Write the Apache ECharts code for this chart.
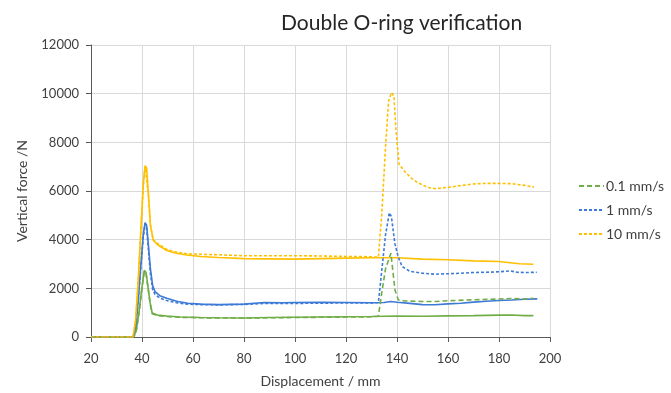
<!DOCTYPE html>
<html>
<head>
<meta charset="utf-8">
<script src="https://cdn.jsdelivr.net/npm/echarts@6/dist/echarts.min.js"></script>
<style>
html,body{margin:0;padding:0;background:#fff;}
#chart{width:671px;height:393px;}
</style>
</head>
<body>
<div id="chart"></div>
<script>
// legend names
var seriesNames = ['0.1 mm/s', '1 mm/s', '10 mm/s'];
var xTicks = [20, 40, 60, 80, 100, 120, 140, 160, 180, 200];

// 0.1 mm/s
var dispGreenSolid = [20, 36.8, 37.8, 38.8, 39.8, 40.9, 41.6, 42.3, 43.2, 44, 46, 49.7, 55, 63, 70, 80, 90, 100, 110, 120, 130, 140, 150, 160, 170, 180, 185, 190, 193.5];
var forceGreenSolid = [0, 0, 300, 1000, 1900, 2743, 2650, 2100, 1400, 986, 900, 860, 820, 800, 790, 780, 800, 810, 820, 830, 840, 860, 850, 870, 880, 900, 905, 880, 878];
var dispGreenDash = [20, 36.8, 37.8, 38.8, 39.8, 40.9, 41.6, 42.3, 43.2, 44, 46, 49.7, 55, 63, 70, 80, 90, 100, 110, 120, 130, 132.7, 134, 135.5, 137.6, 139.2, 140.5, 143, 150, 155, 160, 170, 180, 185, 190, 193.5];
var forceGreenDash = [0, 0, 280, 950, 1850, 2700, 2600, 2050, 1350, 960, 880, 840, 810, 790, 780, 780, 790, 800, 810, 820, 830, 851, 1800, 2800, 3446, 1933, 1527, 1480, 1460, 1460, 1490, 1530, 1560, 1580, 1560, 1590];

// 1 mm/s
var dispBlueSolid = [20, 36.5, 37.5, 38.5, 39.5, 40.5, 41.2, 41.8, 42.5, 43.3, 44.2, 45.1, 47, 49.7, 54, 58, 63, 70, 80, 88, 95, 100, 110, 120, 130, 135, 137.5, 140, 145, 150, 155, 160, 165, 170, 175, 180, 185, 190, 195];
var forceBlueSolid = [0, 0, 400, 1500, 2900, 4200, 4700, 4600, 3800, 2800, 2100, 1865, 1700, 1594, 1460, 1390, 1351, 1330, 1350, 1419, 1410, 1420, 1430, 1420, 1410, 1420, 1460, 1430, 1380, 1330, 1324, 1360, 1390, 1432, 1470, 1500, 1520, 1550, 1567];
var dispBlueDash = [20, 36.5, 37.5, 38.5, 39.5, 40.5, 41.2, 41.8, 42.5, 43.3, 44.2, 45.1, 47, 49.7, 54, 58, 63, 70, 80, 88, 95, 100, 110, 120, 130, 132.7, 134, 135.5, 137, 137.8, 139.2, 140.5, 142, 145, 150, 155, 160, 165, 170, 175, 180, 184.5, 187, 190, 194.8];
var forceBlueDash = [0, 0, 380, 1450, 2800, 4100, 4650, 4500, 3600, 2600, 1950, 1750, 1600, 1500, 1400, 1350, 1330, 1320, 1340, 1380, 1380, 1380, 1390, 1400, 1400, 1410, 2700, 4200, 5108, 4950, 3824, 3284, 2900, 2700, 2620, 2580, 2600, 2620, 2650, 2660, 2680, 2716, 2660, 2650, 2660];

// 10 mm/s
var dispYellowSolid = [20, 36.5, 37.5, 38.5, 39.5, 40.5, 41.2, 41.8, 42.5, 43.3, 44.4, 46, 49.7, 53, 57.5, 63, 70, 80, 90, 100, 110, 120, 130, 140, 150, 160, 170, 180, 188, 193.5];
var forceYellowSolid = [0, 0, 700, 2300, 4300, 6300, 7040, 6950, 5900, 4600, 3985, 3800, 3554, 3450, 3370, 3310, 3270, 3220, 3210, 3200, 3220, 3240, 3255, 3256, 3200, 3176, 3130, 3100, 3013, 2987];
var dispYellowDash = [20, 36.5, 37.5, 38.5, 39.5, 40.5, 41.2, 41.8, 42.5, 43.3, 44.4, 46, 49.7, 53, 57.5, 63, 70, 80, 90, 100, 110, 120, 128, 132.7, 134, 135.5, 136.7, 137.8, 138.8, 139.6, 140.8, 143, 146, 148, 152, 155, 160, 165, 170, 175, 180, 185, 190, 193.7];
var forceYellowDash = [0, 0, 650, 2200, 4200, 6200, 6980, 6900, 5850, 4600, 4000, 3850, 3600, 3500, 3420, 3400, 3380, 3340, 3340, 3340, 3330, 3310, 3300, 3284, 5000, 7800, 9700, 10040, 9900, 8500, 7100, 6800, 6500, 6350, 6150, 6094, 6150, 6220, 6290, 6312, 6312, 6300, 6230, 6160];

var colors = ['#70ad47', '#3d7ad6', '#ffc000'];
var fontName = 'Lato';

function pairs(xs, ys){
	var out = [];
	for(var i = 0; i < xs.length; i++){
		out.push([xs[i], ys[i]]);
	}
	return out;
}

function makeLine(name, xs, ys, color, dash){
	return {
		name: name,
		type: 'line',
		data: pairs(xs, ys),
		symbol: 'none',
		silent: true,
		color: color,
		lineStyle: {color: color, width: 1.6, type: dash},
		z: dash == 'solid' ? 2 : 3
	};
}

var chart = echarts.init(document.getElementById('chart'));
var option = {
	animation: false,
	backgroundColor: '#fff',
	title: {
		text: 'Double O-ring verification',
		left: 276,
		top: 8,
		textStyle: {fontFamily: fontName, fontSize: 21, fontWeight: 'normal', color: '#262626'}
	},
	legend: {
		data: seriesNames,
		orient: 'vertical',
		left: 573,
		top: 174,
		itemWidth: 25,
		itemHeight: 14,
		itemGap: 10,
		itemStyle: {opacity: 0},
		textStyle: {fontFamily: fontName, fontSize: 14, color: '#404040', padding: [0, 0, 0, -3]}
	},
	grid: {left: 91, right: 121, top: 45, bottom: 52},
	xAxis: {
		type: 'value',
		min: xTicks[0],
		max: xTicks[xTicks.length - 1],
		interval: 20,
		name: 'Displacement / mm',
		nameLocation: 'middle',
		nameGap: 37,
		nameTextStyle: {fontFamily: fontName, fontSize: 14, color: '#404040'},
		axisLine: {lineStyle: {color: '#595959', width: 1}},
		axisTick: {show: true, length: 5, lineStyle: {color: '#595959'}},
		axisLabel: {fontFamily: fontName, fontSize: 13, color: '#404040', margin: 15},
		splitLine: {show: true, lineStyle: {color: '#d9d9d9'}}
	},
	yAxis: {
		type: 'value',
		min: 0,
		max: 12000,
		interval: 2000,
		name: 'Vertical force /N',
		nameLocation: 'middle',
		nameGap: 62,
		nameTextStyle: {fontFamily: fontName, fontSize: 14, color: '#404040'},
		axisLine: {show: true, lineStyle: {color: '#595959', width: 1}},
		axisTick: {show: true, length: 5, lineStyle: {color: '#595959'}},
		axisLabel: {fontFamily: fontName, fontSize: 13, color: '#404040', margin: 12, formatter: function(v){ return String(v); }},
		splitLine: {show: true, lineStyle: {color: '#d9d9d9'}}
	},
	series: [
		makeLine('0.1 mm/s solid', dispGreenSolid, forceGreenSolid, colors[0], 'solid'),
		makeLine('1 mm/s solid', dispBlueSolid, forceBlueSolid, colors[1], 'solid'),
		makeLine('10 mm/s solid', dispYellowSolid, forceYellowSolid, colors[2], 'solid'),
		makeLine(seriesNames[0], dispGreenDash, forceGreenDash, colors[0], [5, 3]),
		makeLine(seriesNames[1], dispBlueDash, forceBlueDash, colors[1], [3, 2]),
		makeLine(seriesNames[2], dispYellowDash, forceYellowDash, colors[2], [3, 2])
	]
};
chart.setOption(option);
</script>
</body>
</html>
